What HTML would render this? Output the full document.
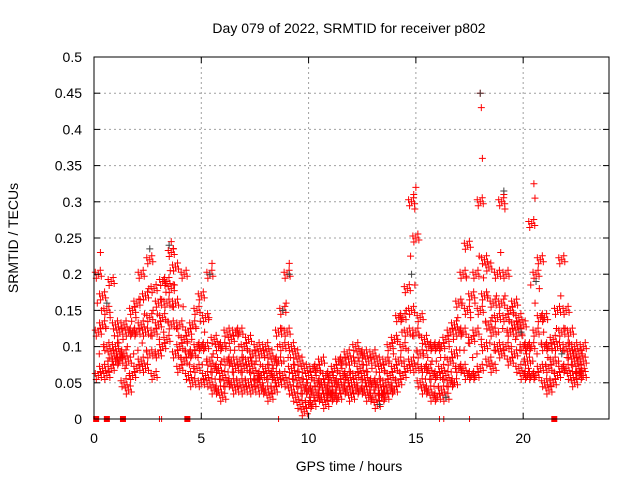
<!DOCTYPE html>
<html><head><meta charset="utf-8"><style>
html,body{margin:0;padding:0;background:#fff}
svg{display:block;font-family:"Liberation Sans",sans-serif}
</style></head><body>
<svg id="chart" width="640" height="480" viewBox="0 0 640 480" xmlns="http://www.w3.org/2000/svg">
<rect x="0" y="0" width="640" height="480" fill="#fff"/>
<text x="349" y="33" font-size="14" text-anchor="middle">Day 079 of 2022, SRMTID for receiver p802</text>
<text transform="translate(18,238) rotate(-90)" font-size="14" text-anchor="middle">SRMTID / TECUs</text>
<text x="349" y="471" font-size="14" text-anchor="middle">GPS time / hours</text>
<g id="grid"></g>
<g id="marks"></g>
<g id="axes"></g>
</svg>
<script>
const xTicks=[0,5,10,15,20];
const yTicks=[0,0.05,0.1,0.15,0.2,0.25,0.3,0.35,0.4,0.45,0.5];
const yTickLabels=["0","0.05","0.1","0.15","0.2","0.25","0.3","0.35","0.4","0.45","0.5"];
const times=[0.2,0.4,0.6,0.8,1.0,1.2,1.4,1.6,1.8,2.0,2.2,2.4,2.6,2.8,3.0,3.2,3.4,3.6,3.8,4.0,4.2,4.4,4.6,4.8,5.0,5.2,5.4,5.6,5.8,6.0,6.2,6.4,6.6,6.8,7.0,7.2,7.4,7.6,7.8,8.0,8.2,8.4,8.6,8.8,9.0,9.2,9.4,9.6,9.8,10.0,10.2,10.4,10.6,10.8,11.0,11.2,11.4,11.6,11.8,12.0,12.2,12.4,12.6,12.8,13.0,13.2,13.4,13.6,13.8,14.0,14.2,14.4,14.6,14.8,15.0,15.2,15.4,15.6,15.8,16.0,16.2,16.4,16.6,16.8,17.0,17.2,17.4,17.6,17.8,18.0,18.2,18.4,18.6,18.8,19.0,19.2,19.4,19.6,19.8,20.0,20.2,20.4,20.6,20.8,21.0,21.2,21.4,21.6,21.8,22.0,22.2,22.4,22.6,22.8];
const lowVals=[.06,.07,.06,.07,.08,.08,.05,.04,.06,.07,.08,.07,.09,.06,.09,.1,.11,.13,.09,.07,.08,.06,.05,.07,.05,.06,.05,.04,.04,.03,.05,.05,.04,.05,.04,.05,.04,.05,.04,.04,.03,.04,.05,.06,.05,.04,.03,.02,.01,.02,.02,.03,.03,.02,.03,.03,.03,.04,.04,.03,.04,.04,.04,.03,.03,.02,.03,.03,.04,.04,.05,.06,.07,.08,.07,.05,.04,.04,.03,.03,.04,.03,.05,.05,.07,.07,.06,.06,.06,.07,.1,.08,.07,.1,.09,.1,.08,.09,.07,.06,.06,.06,.06,.07,.05,.04,.05,.06,.07,.07,.06,.05,.06,.06];
const midVals=[.12,.13,.1,.09,.1,.09,.09,.08,.12,.12,.13,.12,.14,.12,.13,.14,.16,.18,.16,.1,.11,.09,.09,.1,.1,.1,.08,.07,.07,.06,.08,.08,.07,.08,.07,.08,.07,.06,.06,.07,.06,.06,.08,.1,.12,.07,.06,.05,.04,.04,.04,.05,.05,.04,.04,.05,.05,.06,.06,.05,.06,.07,.06,.05,.05,.05,.04,.05,.06,.07,.08,.1,.12,.15,.12,.09,.07,.07,.06,.06,.07,.06,.08,.09,.12,.12,.15,.11,.12,.15,.17,.13,.12,.14,.16,.14,.12,.13,.12,.1,.08,.1,.12,.14,.1,.07,.08,.1,.12,.1,.09,.08,.07,.08];
const highVals=[.2,.17,.15,.19,.13,.12,.13,.12,.15,.16,.2,.17,.22,.18,.16,.19,.19,.23,.21,.13,.2,.12,.13,.15,.17,.14,.2,.11,.1,.1,.12,.11,.12,.12,.1,.11,.09,.1,.09,.1,.09,.08,.12,.15,.2,.1,.09,.08,.07,.06,.07,.07,.08,.06,.06,.07,.08,.08,.09,.08,.1,.09,.09,.08,.09,.08,.07,.08,.1,.11,.14,.14,.18,.3,.25,.14,.11,.1,.1,.1,.1,.11,.12,.13,.16,.2,.24,.17,.2,.3,.22,.21,.16,.2,.3,.2,.15,.16,.14,.13,.1,.27,.2,.22,.14,.1,.11,.15,.22,.15,.12,.1,.09,.1];
const spikeTimes=[0.3,3.6,3.7,5.5,9.1,14.9,14.95,15.0,18.0,18.05,18.1,19.1,19.15,20.5,20.55];
const spikeVals=[0.23,0.245,0.235,0.215,0.215,0.31,0.29,0.32,0.45,0.43,0.36,0.31,0.29,0.325,0.305];
const darkTimes=[0.6,2.6,3.5,5.4,8.8,9.1,13.3,14.8,16.4,18.0,19.1,19.9,20.6,21.8];
const darkVals=[0.16,0.235,0.24,0.2,0.15,0.2,0.02,0.2,0.03,0.45,0.315,0.12,0.19,0.09];
const zeroMarkTimes=[0.1,0.6,1.35,4.35,21.45];
const zeroTickTimes=[3.05,3.15,8.6,16.1,16.3,17.5];

const L=94,R=609,T=57,B=419,X0=0,X1=24,Y0=0,Y1=0.5;
const xs=v=>L+(v-X0)/(X1-X0)*(R-L);
const ys=v=>B-(v-Y0)/(Y1-Y0)*(B-T);
const NS="http://www.w3.org/2000/svg";
function mk(tag,parent,attrs){const e=document.createElementNS(NS,tag);for(const k in attrs)e.setAttribute(k,attrs[k]);parent.appendChild(e);return e;}
const grid=document.getElementById('grid'),marks=document.getElementById('marks'),axes=document.getElementById('axes');
xTicks.forEach(t=>{
  if(t>0){const g=mk('line',grid,{x1:xs(t),x2:xs(t),y1:T,y2:B,stroke:'#a0a0a0','stroke-dasharray':'2,3'});
  
  }
  const tk=mk('line',axes,{x1:xs(t),x2:xs(t),y1:B,y2:B-6,stroke:'#000'});
  
  
  const tk2=mk('line',axes,{x1:xs(t),x2:xs(t),y1:T,y2:T+6,stroke:'#000'});
  
  
  const lb=mk('text',axes,{x:xs(t),y:B+24,'font-size':14,'text-anchor':'middle'});lb.textContent=t;
  
  
});
yTicks.forEach((t,i)=>{
  if(t>0&&t<0.5){const g=mk('line',grid,{x1:L,x2:R,y1:ys(t),y2:ys(t),stroke:'#a0a0a0','stroke-dasharray':'2,3'});
  
  }
  const tk=mk('line',axes,{x1:L,x2:L+6,y1:ys(t),y2:ys(t),stroke:'#000'});
  
  
  const tk2=mk('line',axes,{x1:R,x2:R-6,y1:ys(t),y2:ys(t),stroke:'#000'});
  
  
  const lb=mk('text',axes,{x:L-12,y:ys(t)+5,'font-size':14,'text-anchor':'end'});lb.textContent=yTickLabels[i];
  
  
});
const frame=mk('rect',axes,{x:L,y:T,width:R-L,height:B-T,fill:'none',stroke:'#000'});



function plus(x,y,col){
  const p=mk('path',marks,{d:`M${x-3.5} ${y}h7M${x} ${y-3.5}v7`,stroke:col,'stroke-width':1});
  
  
}
// cluster style offsets (px) to render the dense point cloud around each sampled value
const cl=[[0,0],[-2,4],[2,-4],[-3,-2],[3,2]];
times.forEach((t,i)=>{
  [lowVals[i],midVals[i],highVals[i]].forEach(v=>{
    cl.forEach(o=>plus(xs(t)+o[0],ys(v)+o[1],'#ff0000'));
  });
  const mv=(lowVals[i]+midVals[i])/2, hv=(midVals[i]+highVals[i])/2;
  plus(xs(t)+1,ys(mv),'#ff0000');plus(xs(t)-1,ys(hv),'#ff0000');
});
spikeTimes.forEach((t,i)=>plus(xs(t),ys(spikeVals[i]),'#ff0000'));
darkTimes.forEach((t,i)=>plus(xs(t),ys(darkVals[i]),'#404040'));
zeroMarkTimes.forEach(t=>{
  const r=mk('rect',marks,{x:xs(t)-3,y:B-3,width:6,height:6,fill:'#ff0000'});
  
  
});
zeroTickTimes.forEach(t=>{
  const r=mk('line',marks,{x1:xs(t),x2:xs(t),y1:B-3,y2:B+3,stroke:'#ff0000'});
  
  
});
</script>
</body></html>
